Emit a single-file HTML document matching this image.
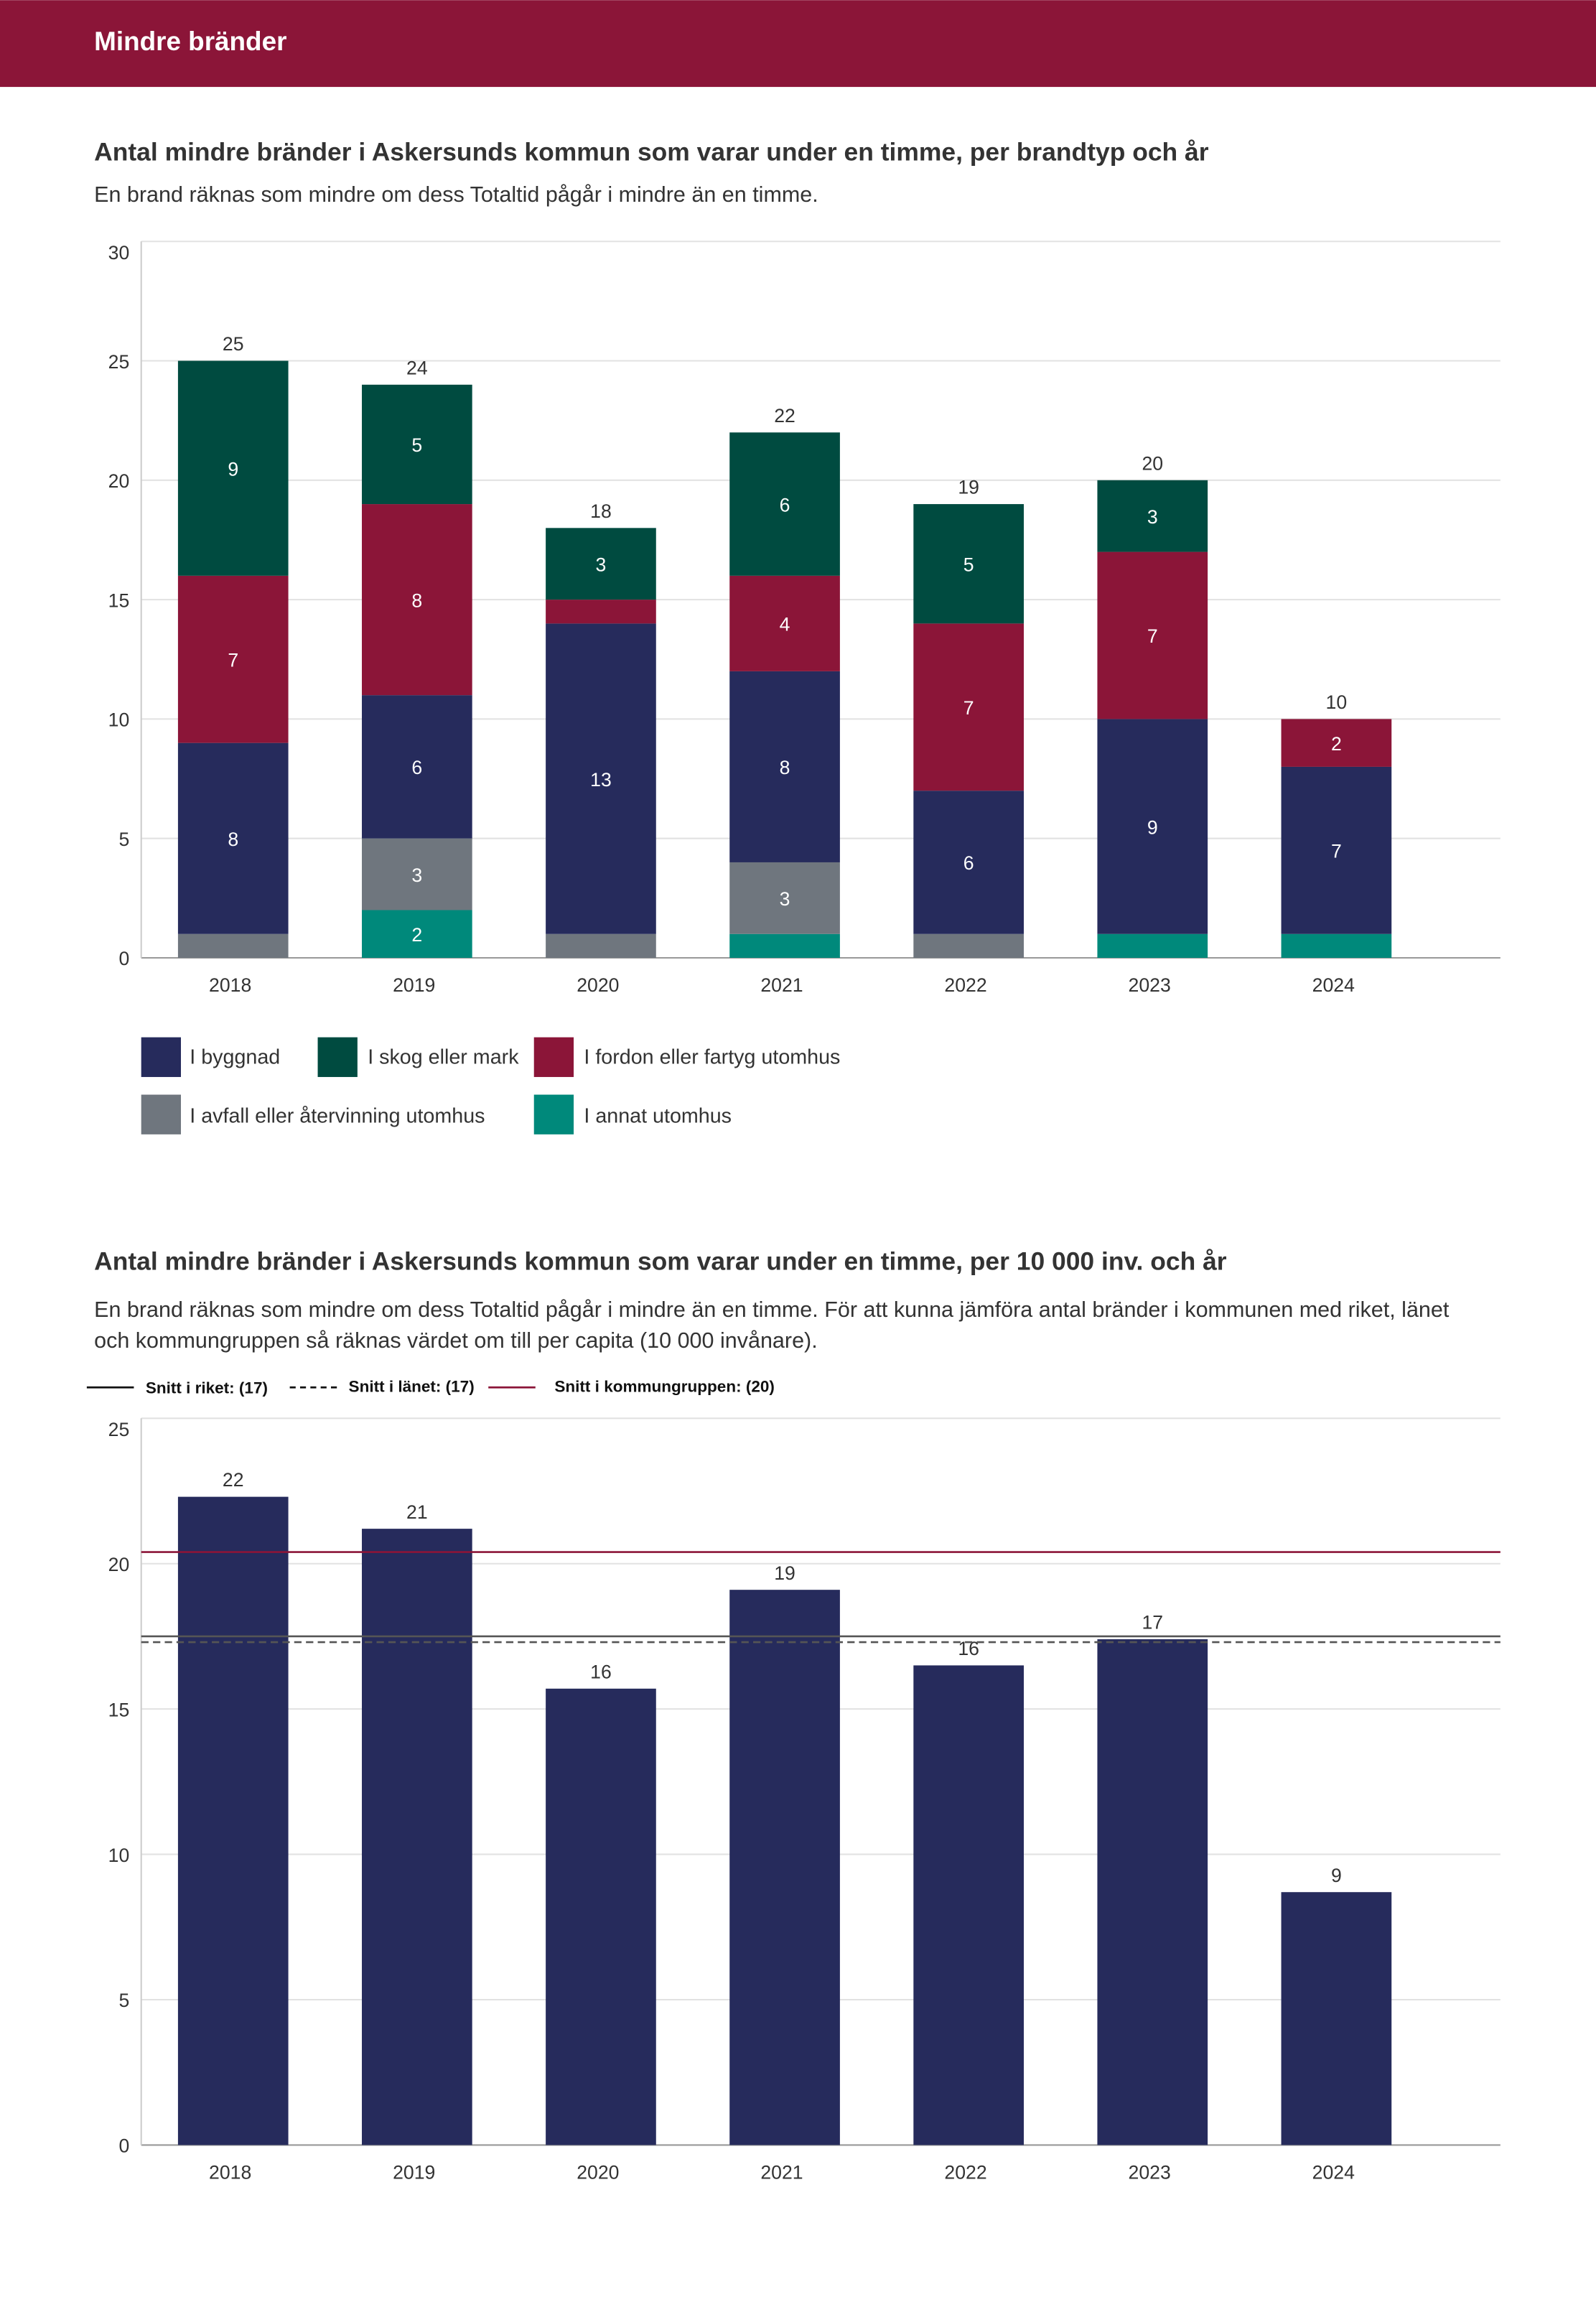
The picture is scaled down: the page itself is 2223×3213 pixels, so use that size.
<!DOCTYPE html>
<html><head><meta charset="utf-8"><style>
html,body{margin:0;padding:0;background:#fff;width:2223px;height:3213px;overflow:hidden}
svg{display:block;font-family:"Liberation Sans",sans-serif}
</style></head><body>
<svg id="root" width="2223" height="3213" viewBox="0 0 1085 1568" xmlns="http://www.w3.org/2000/svg">
<rect x="0" y="0" width="1085" height="59" fill="#8b1538"/>
<text x="64" y="34" fill="#fff" font-size="18" font-weight="bold">Mindre bränder</text>
<text x="64" y="109" fill="#333" font-size="17.3" font-weight="bold">Antal mindre bränder i Askersunds kommun som varar under en timme, per brandtyp och år</text>
<text x="64" y="137" fill="#333" font-size="14.9">En brand räknas som mindre om dess Totaltid pågår i mindre än en timme.</text>
<g id="c1"></g>
<g font-size="14" fill="#333">
<rect x="96" y="705" width="27" height="27" fill="#262b5c"/><text x="129" y="723">I byggnad</text>
<rect x="216" y="705" width="27" height="27" fill="#004b40"/><text x="250" y="723">I skog eller mark</text>
<rect x="363" y="705" width="27" height="27" fill="#8b1538"/><text x="397" y="723">I fordon eller fartyg utomhus</text>
<rect x="96" y="744" width="27" height="27" fill="#6f767e"/><text x="129" y="763">I avfall eller återvinning utomhus</text>
<rect x="363" y="744" width="27" height="27" fill="#00897b"/><text x="397" y="763">I annat utomhus</text>
</g>
<text x="64" y="863" fill="#333" font-size="17.3" font-weight="bold">Antal mindre bränder i Askersunds kommun som varar under en timme, per 10 000 inv. och år</text>
<text x="64" y="895" fill="#333" font-size="14.9">En brand räknas som mindre om dess Totaltid pågår i mindre än en timme. För att kunna jämföra antal bränder i kommunen med riket, länet</text>
<text x="64" y="916" fill="#333" font-size="14.9">och kommungruppen så räknas värdet om till per capita (10 000 invånare).</text>
<g font-size="11" fill="#111" font-weight="bold">
<line x1="59" y1="943" x2="91" y2="943" stroke="#111" stroke-width="1.3"/><text x="99" y="947">Snitt i riket: (17)</text>
<line x1="197" y1="943" x2="229" y2="943" stroke="#111" stroke-width="1.3" stroke-dasharray="4,3"/><text x="237" y="946">Snitt i länet: (17)</text>
<line x1="332" y1="943" x2="364" y2="943" stroke="#8b1538" stroke-width="1.3"/><text x="377" y="946">Snitt i kommungruppen: (20)</text>
</g>
<g id="c2"></g>
</svg>
<script>
const years=["2018","2019","2020","2021","2022","2023","2024"];
const annat=[0,2,0,1,0,1,1];
const avfall=[1,3,1,3,1,0,0];
const byggnad=[8,6,13,8,6,9,7];
const fordon=[7,8,1,4,7,7,2];
const skog=[9,5,3,6,5,3,0];
const ticks1=[0,5,10,15,20,25,30];
const perCapita=[22.3,21.2,15.7,19.1,16.5,17.4,8.7];
const perCapitaLabels=["22","21","16","19","16","17","9"];
const ticks2=[0,5,10,15,20,25];
const rikesSnitt=17.5, lansSnitt=17.3, gruppSnitt=20.4;
const NS="http://www.w3.org/2000/svg";
function mk(p,t,a){const e=document.createElementNS(NS,t);for(const k in a)e.setAttribute(k,a[k]);p.appendChild(e);return e;}
const bx=i=>121+i*125, bw=75;
// chart1
const c1=document.getElementById('c1');
const y1=v=>651-v*(487/30);
ticks1.forEach(t=>{
 const l=mk(c1,'line',{x1:96,x2:1020,y1:y1(t),y2:y1(t),stroke:t===0?'#999':'#e2e2e2','stroke-width':1});
 
 
 const tx=mk(c1,'text',{x:88,y:y1(t)+(t===30?12:5),'text-anchor':'end','font-size':13,fill:'#333'});tx.textContent=t;
 
 
});
mk(c1,'line',{x1:96,x2:96,y1:164,y2:651,stroke:'#ccc'});
const series=[[annat,'#00897b','annat'],[avfall,'#6f767e','avfall'],[byggnad,'#262b5c','byggnad'],[fordon,'#8b1538','fordon'],[skog,'#004b40','skog']];
years.forEach((yr,i)=>{
 let base=0;
 series.forEach(([arr,col,nm])=>{
  const v=arr[i]; if(!v) return;
  const r=mk(c1,'rect',{x:bx(i),y:y1(base+v),width:bw,height:y1(base)-y1(base+v),fill:col});
  
  
  if(v>=2){const t=mk(c1,'text',{x:bx(i)+bw/2,y:(y1(base)+y1(base+v))/2+5,'text-anchor':'middle','font-size':13,fill:'#fff'});t.textContent=v;
   
   }
  base+=v;
 });
 const tt=mk(c1,'text',{x:bx(i)+bw/2,y:y1(base)-7,'text-anchor':'middle','font-size':13,fill:'#333'});tt.textContent=base;
 
 
 const xl=mk(c1,'text',{x:bx(i)+bw/2-2,y:674,'text-anchor':'middle','font-size':13,fill:'#333'});xl.textContent=yr;
 
 
});
// chart2
const c2=document.getElementById('c2');
const y2=v=>1458-v*(494/25);
ticks2.forEach(t=>{
 const l=mk(c2,'line',{x1:96,x2:1020,y1:y2(t),y2:y2(t),stroke:t===0?'#999':'#e2e2e2','stroke-width':1});
 
 
 const tx=mk(c2,'text',{x:88,y:y2(t)+(t===25?12:5),'text-anchor':'end','font-size':13,fill:'#333'});tx.textContent=t;
 
 
});
mk(c2,'line',{x1:96,x2:96,y1:964,y2:1458,stroke:'#ccc'});
years.forEach((yr,i)=>{
 const r=mk(c2,'rect',{x:bx(i),y:y2(perCapita[i]),width:bw,height:y2(0)-y2(perCapita[i]),fill:'#262b5c'});
 
 
 const t=mk(c2,'text',{x:bx(i)+bw/2,y:y2(perCapita[i])-7,'text-anchor':'middle','font-size':13,fill:'#333'});t.textContent=perCapitaLabels[i];
 
 
 const xl=mk(c2,'text',{x:bx(i)+bw/2-2,y:1481,'text-anchor':'middle','font-size':13,fill:'#333'});xl.textContent=yr;
 
 
});
const lr=mk(c2,'line',{x1:96,x2:1020,y1:y2(rikesSnitt),y2:y2(rikesSnitt),stroke:'#555','stroke-width':1.3});


const ll=mk(c2,'line',{x1:96,x2:1020,y1:y2(lansSnitt),y2:y2(lansSnitt),stroke:'#555','stroke-width':1.3,'stroke-dasharray':'5,3'});


const lg=mk(c2,'line',{x1:96,x2:1020,y1:y2(gruppSnitt),y2:y2(gruppSnitt),stroke:'#8b1538','stroke-width':1.3});


</script>
</body></html>
